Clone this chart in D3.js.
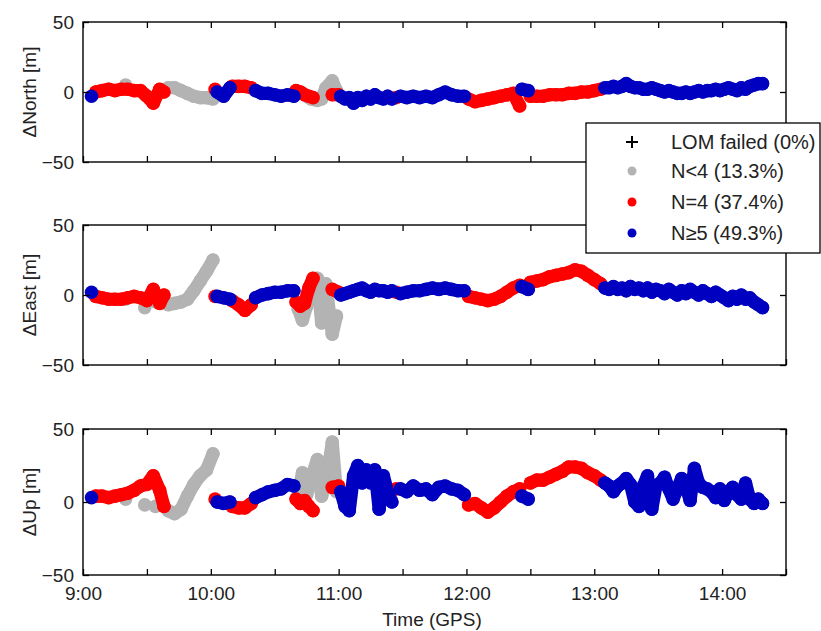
<!DOCTYPE html>
<html>
<head>
<meta charset="utf-8">
<script src="https://cdn.jsdelivr.net/npm/d3@7"></script>
<style>
  body { margin: 0; background: #fff; }
  svg text { font-family: "Liberation Sans", Arial, sans-serif; fill: #222; }
</style>
</head>
<body>
<svg id="chart" width="821" height="631"></svg>
<script>
// minutes after 9:00 GPS time
var epochs = [
  4,
  6, 9, 12, 15, 18, 20, 21, 24, 27, 29, 30, 33, 34, 36, 38,
  40, 43, 46, 49, 52, 55, 58, 61,
  62, 63, 66, 69,
  70, 73, 76, 79,
  81, 84, 87, 90, 93, 96, 99,
  100, 101, 102, 103, 104, 105, 106, 107, 108, 110, 112, 114, 117, 117, 119, 120,
  121, 123, 125, 127, 129, 131, 133, 135, 137, 139, 141, 143, 145,
  147, 149, 152, 155, 158, 161, 164, 167, 170, 173, 176, 179,
  181, 184, 187, 190, 193, 196, 199, 202, 205, 206, 209,
  210, 213, 216, 219, 222, 225, 228, 231, 234, 237, 240, 243,
  245, 247, 249, 251, 253, 255, 257, 259, 261, 263, 265, 267, 269, 271, 273, 275, 277, 279, 281,
  283, 285, 287, 289, 291, 293, 295, 297, 299, 301, 303, 305, 307, 309, 311, 313, 315, 317, 319
];
// number of satellites class: 3 = N<4, 4 = N=4, 5 = N>=5
var nsat = [
  5,
  4, 4, 4, 4, 4, 3, 4, 4, 4, 3, 4, 4, 3, 4, 4,
  3, 3, 3, 3, 3, 3, 3, 3,
  4, 5, 5, 5,
  4, 4, 4, 4,
  5, 5, 5, 5, 5, 5, 5,
  4, 3, 4, 3, 4, 3, 4, 3, 4, 3, 3, 3, 3, 4, 3, 4,
  5, 5, 5, 5, 5, 5, 5, 5, 5, 5, 5, 5, 5,
  4, 5, 5, 5, 5, 5, 5, 5, 5, 5, 5, 5,
  4, 4, 4, 4, 4, 4, 4, 4, 4, 5, 5,
  4, 4, 4, 4, 4, 4, 4, 4, 4, 4, 4, 4,
  5, 5, 5, 5, 5, 5, 5, 5, 5, 5, 5, 5, 5, 5, 5, 5, 5, 5, 5,
  5, 5, 5, 5, 5, 5, 5, 5, 5, 5, 5, 5, 5, 5, 5, 5, 5, 5, 5
];
var dNorth = [
  -3,
  0, 1, 2, 1, 2, 5, 2, 1, 1, -2, -3, -8, -3, 2, 0,
  3, 3, 1, -1, -3, -4, -4, -5,
  2, 0, -3, 3,
  4, 4, 4, 3,
  1, -1, -1, -2, -3, -2, -3,
  1, 0, 0, -1, -2, -3, -3, -5, -4, -6, -5, 3, 8, -2, 1, -2,
  -3, -5, -4, -8, -4, -6, -3, -5, -2, -4, -5, -3, -5,
  -4, -3, -4, -3, -4, -3, -4, -2, 0, -2, -3, -3,
  -5, -7, -6, -5, -4, -3, -2, -1, -10, 2, 1,
  -3, -3, -3, -2, -2, -2, -1, -1, 0, 0, 1, 2,
  3, 3, 4, 3, 4, 6, 4, 3, 3, 2, 2, 3, 2, 1, 0, 1, 0, -1, -1,
  0, -1, 0, 1, 0, 1, 1, 2, 1, 2, 3, 2, 1, 3, 2, 4, 5, 6, 6
];
var dEast = [
  2,
  -1, -2, -3, -3, -3, -3, -2, -1, -2, -9, -4, 4, -5, -6, 0,
  -7, -6, -5, -3, 3, 10, 17, 25,
  -1, -1, -2, -3,
  -4, -7, -11, -7,
  -2, 0, 1, 2, 2, 3, 3,
  -5, -10, -8, -18, -6, -8, 5, 5, 12, 12, -20, 8, -28, 4, -15, 2,
  0, 1, 2, 3, 4, 5, 3, 2, 4, 3, 3, 2, 3,
  2, 1, 2, 3, 3, 4, 5, 4, 5, 4, 3, 3,
  -1, -2, -3, -4, -3, -1, 2, 5, 7, 6, 4,
  9, 10, 11, 13, 14, 15, 16, 18, 17, 14, 11, 8,
  5, 4, 6, 4, 5, 3, 6, 4, 5, 3, 5, 2, 4, 3, 1, 4, 2, 0, 3,
  1, 4, 2, 0, 3, 1, -1, 2, 0, -2, -4, -1, -3, 0, -3, -2, -5, -7, -9
];
var dUp = [
  3,
  4, 4, 3, 4, 5, 2, 6, 8, 11, -2, 12, 18, -3, 8, -3,
  -6, -8, -5, 4, 12, 18, 22, 33,
  2, 0, -1, 0,
  -3, -4, -4, -1,
  3, 5, 7, 8, 9, 12, 11,
  2, 5, -1, 20, 1, 5, -3, 16, -6, 29, 4, 13, 41, 10, 7, 11,
  7, -3, -6, 18, 25, 13, 22, 13, 22, -5, 18, 7, 0,
  9, 9, 7, 11, 8, 9, 5, 10, 11, 9, 8, 5,
  -2, -1, -4, -7, -4, 0, 4, 7, 9, 4, 2,
  13, 15, 15, 17, 19, 21, 24, 24, 23, 20, 18, 15,
  13, 11, 7, 11, 13, 16, 12, 0, -3, 11, 18, -5, 11, 13, 17, 9, 2, 9, 16,
  11, 1, 23, 13, 10, 9, 7, 3, 9, 1, 7, 10, 5, 2, 13, 2, -1, 2, -1
];

var xTicks = [0, 30, 60, 90, 120, 150, 180, 210, 240, 270, 300, 330];
var yTicks = [-50, 0, 50];
var classes = [3, 4, 5];
var classColor = {3: "#b3b3b3", 4: "#ff0000", 5: "#0000c0"};
var legendLabels = ["LOM failed (0%)", "N<4 (13.3%)", "N=4 (37.4%)", "N\u22655 (49.3%)"];

var svg = d3.select("#chart");
var x = d3.scaleLinear().domain([0, 330]).range([83, 786]);

var panels = [
  {label: "\u0394North [m]", values: dNorth, top: 22, bottom: 162},
  {label: "\u0394East [m]", values: dEast, top: 225, bottom: 365},
  {label: "\u0394Up [m]", values: dUp, top: 429, bottom: 575}
];

var r = 6.8;

panels.forEach(function (p, pi) {
  var y = d3.scaleLinear().domain([-50, 50]).range([p.bottom, p.top]);
  var g = svg.append("g");

  var rows = epochs.map(function (t, i) {
    return {t: t, v: p.values[i], c: nsat[i]};
  });

  // draw classes in order gray, red, blue
  classes.forEach(function (c) {
    var pts = rows.filter(function (d) { return d.c == c; })
      .sort(function (a, b) { return a.t - b.t; });
    var runs = [];
    var cur = [];
    pts.forEach(function (d, i) {
      if (i > 0 && d.t - pts[i - 1].t > 3.5) {
        runs.push(cur);
        cur = [];
      }
      cur.push(d);
    });
    if (cur.length) runs.push(cur);

    var line = d3.line()
      .x(function (d) { return x(d.t); })
      .y(function (d) { return y(d.v); });

    g.selectAll(null)
      .data(runs.filter(function (run) { return run.length > 1; }))
      .enter()
      .append("path")
      .attr("d", line)
      .attr("fill", "none")
      .attr("stroke", classColor[c])
      .attr("stroke-width", 2 * r - 0.5)
      .attr("stroke-linejoin", "round")
      .attr("stroke-linecap", "round");

    g.selectAll(null)
      .data(pts)
      .enter()
      .append("circle")
      .attr("cx", function (d) { return x(d.t); })
      .attr("cy", function (d) { return y(d.v); })
      .attr("r", r)
      .attr("fill", classColor[c]);
  });

  var fmt = function (m) {
    return (pi == 2 && m % 60 == 0) ? (9 + m / 60) + ":00" : "";
  };

  var axB = g.append("g")
    .attr("transform", "translate(0," + p.bottom + ")")
    .call(d3.axisBottom(x).tickValues(xTicks).tickFormat(fmt).tickSizeInner(-6).tickSizeOuter(0).tickPadding(12));
  var axT = g.append("g")
    .attr("transform", "translate(0," + p.top + ")")
    .call(d3.axisTop(x).tickValues(xTicks).tickFormat("").tickSizeInner(-6).tickSizeOuter(0));
  var axL = g.append("g")
    .attr("transform", "translate(" + x.range()[0] + ",0)")
    .call(d3.axisLeft(y).tickValues(yTicks).tickSizeInner(-6).tickSizeOuter(0).tickPadding(9));
  var axR = g.append("g")
    .attr("transform", "translate(" + x.range()[1] + ",0)")
    .call(d3.axisRight(y).tickValues(yTicks).tickFormat("").tickSizeInner(-6).tickSizeOuter(0));

  [axB, axT, axL, axR].forEach(function (a) {
    a.select(".domain").remove();
    a.selectAll(".tick line").attr("stroke", "#000").attr("stroke-width", 1.3);
    a.selectAll("text").style("font-size", "19px").attr("fill", "#222");
  });

  g.append("rect")
    .attr("x", x.range()[0])
    .attr("y", p.top)
    .attr("width", x.range()[1] - x.range()[0])
    .attr("height", p.bottom - p.top)
    .attr("fill", "none")
    .attr("stroke", "#000")
    .attr("stroke-width", 1.4);

  g.append("text")
    .attr("transform", "translate(29," + ((p.top + p.bottom) / 2) + ") rotate(-90)")
    .attr("text-anchor", "middle")
    .attr("dominant-baseline", "central")
    .style("font-size", "19px")
    .text(p.label);
});

svg.append("text")
  .attr("x", 432)
  .attr("y", 626)
  .attr("text-anchor", "middle")
  .style("font-size", "19px")
  .text("Time (GPS)");

// legend
var lg = svg.append("g").attr("transform", "translate(586,123)");
lg.append("rect")
  .attr("width", 234)
  .attr("height", 130)
  .attr("fill", "#fff")
  .attr("stroke", "#000")
  .attr("stroke-width", 1.3);

var rowY = [19, 48, 79, 110];
legendLabels.forEach(function (txt, i) {
  var item = lg.append("g").attr("transform", "translate(0," + rowY[i] + ")");
  if (i == 0) {
    item.append("path")
      .attr("d", "M40,0H52M46,-6V6")
      .attr("stroke", "#000")
      .attr("stroke-width", 2);
  } else {
    item.append("circle")
      .attr("cx", 46)
      .attr("r", 4.5)
      .attr("fill", classColor[classes[i - 1]]);
  }
  item.append("text")
    .attr("x", 85)
    .attr("dominant-baseline", "central")
    .style("font-size", "20px")
    .text(txt);
});
</script>
</body>
</html>
